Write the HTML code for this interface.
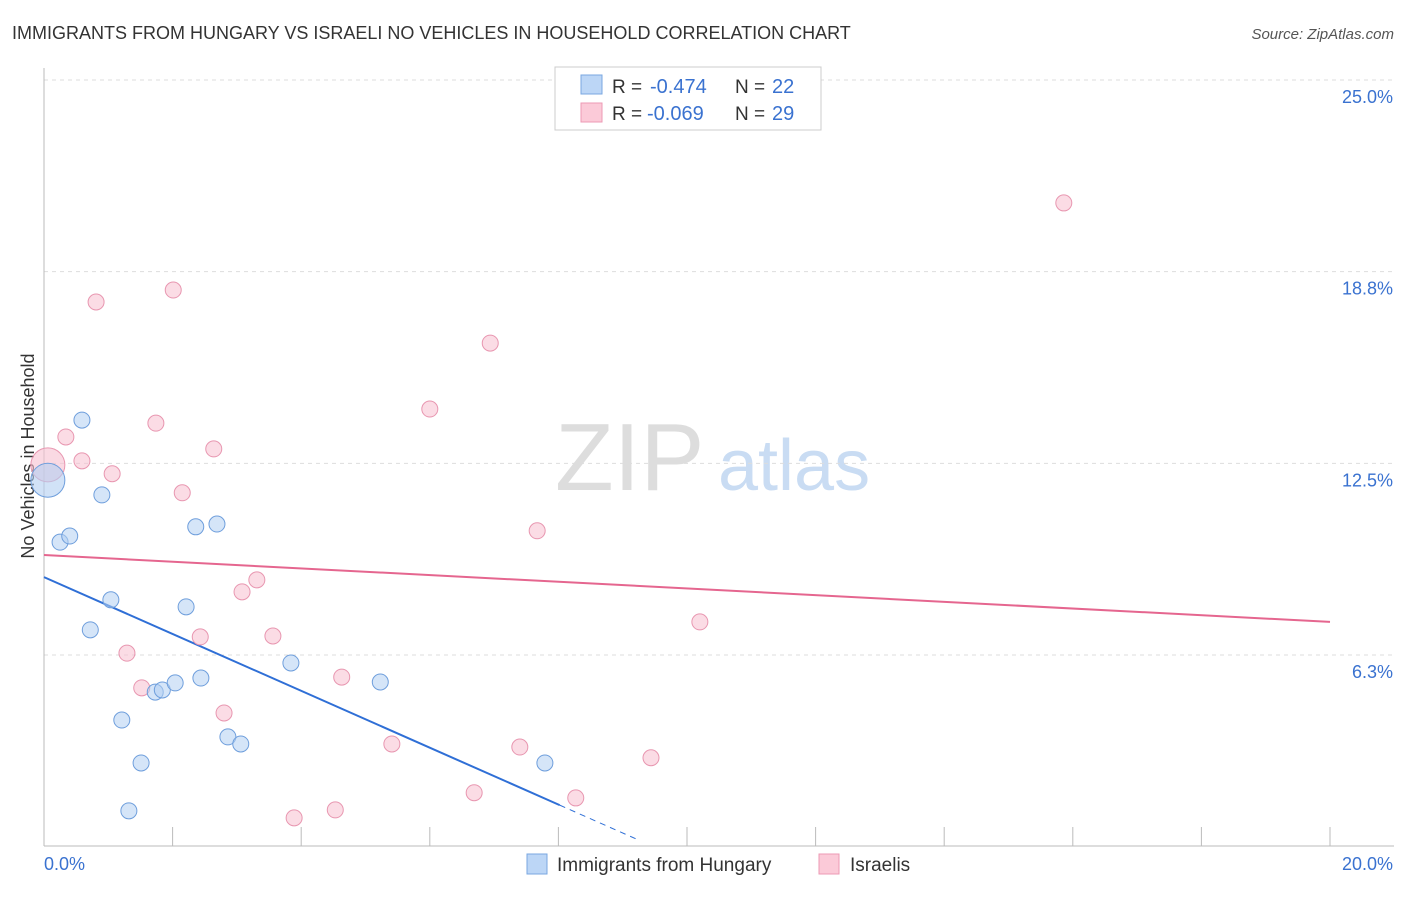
<!DOCTYPE html>
<html><head><meta charset="utf-8"><style>
body{margin:0;background:#fff;font-family:"Liberation Sans",sans-serif;}
svg text{font-family:"Liberation Sans",sans-serif;}
</style></head><body>
<svg id="chart" width="1406" height="892" xmlns="http://www.w3.org/2000/svg">
<text x="12" y="39" font-size="18" fill="#333">IMMIGRANTS FROM HUNGARY VS ISRAELI NO VEHICLES IN HOUSEHOLD CORRELATION CHART</text>
<text x="1394" y="39" font-size="15" fill="#555" text-anchor="end" font-style="italic">Source: ZipAtlas.com</text>
<text x="555" y="490" font-size="96" fill="#ddd" font-family="Liberation Serif">ZIP</text>
<text x="718" y="490" font-size="72" fill="#c9dcf3">atlas</text>
<text transform="translate(34,456) rotate(-90)" font-size="18" fill="#333" text-anchor="middle">No Vehicles in Household</text>
<g id="grid"></g><g id="axes"></g><g id="trends"></g><g id="points"></g>
<g>
<rect x="555" y="67" width="266" height="63" fill="#fff" stroke="#ccc"/>
<rect x="581" y="75" width="21" height="19" fill="#bcd6f6" stroke="#7aa7e0"/>
<rect x="581" y="103" width="21" height="19" fill="#fbcad8" stroke="#ec9ab4"/>
<text x="612" y="93" font-size="19" fill="#333">R =</text>
<text x="650" y="93" font-size="20" fill="#3a72d0">-0.474</text>
<text x="735" y="93" font-size="19" fill="#333">N =</text>
<text x="772" y="93" font-size="20" fill="#3a72d0">22</text>
<text x="612" y="120" font-size="19" fill="#333">R =</text>
<text x="647" y="120" font-size="20" fill="#3a72d0">-0.069</text>
<text x="735" y="120" font-size="19" fill="#333">N =</text>
<text x="772" y="120" font-size="20" fill="#3a72d0">29</text>
</g>
<g>
<rect x="527" y="854" width="20" height="20" fill="#bcd6f6" stroke="#7aa7e0"/>
<text x="557" y="871" font-size="19" fill="#333">Immigrants from Hungary</text>
<rect x="819" y="854" width="20" height="20" fill="#fbcad8" stroke="#ec9ab4"/>
<text x="850" y="871" font-size="19" fill="#333">Israelis</text>
</g>
</svg>
<script>
const yTicks=[25,18.75,12.5,6.25];
const yTickLabels=["25.0%","18.8%","12.5%","6.3%"];
const xTicks=[0,2,4,6,8,10,12,14,16,18,20];
const hungaryX=[0.06,0.25,0.40,0.59,0.90,1.04,0.72,1.21,1.51,1.32,1.73,1.84,2.04,2.21,2.36,2.44,2.69,2.86,3.06,3.84,5.23,7.79];
const hungaryY=[11.95,9.93,10.13,13.91,11.47,8.05,7.07,4.13,2.73,1.17,5.04,5.11,5.34,7.82,10.43,5.50,10.52,3.58,3.35,5.99,5.37,2.73];
const israelX=[0.06,0.34,0.59,0.81,1.06,1.29,1.52,1.74,2.01,2.15,2.43,2.64,2.80,3.08,3.31,3.56,3.89,4.53,4.63,5.41,6.00,6.69,6.94,7.40,7.67,8.27,9.44,10.20,15.86];
const israelY=[12.45,13.36,12.58,17.76,12.16,6.31,5.18,13.81,18.15,11.54,6.84,12.97,4.36,8.31,8.70,6.87,0.94,1.20,5.53,3.35,14.27,1.76,16.42,3.25,10.30,1.59,2.90,7.33,20.99];
const hungaryTrend=[8.79,-0.927];
const israelTrend=[9.51,-0.109];
const NS="http://www.w3.org/2000/svg";
const X=v=>44+v*64.3, Y=v=>846.7-v*30.67;
function mk(tag,attrs,parent){const e=document.createElementNS(NS,tag);for(const k in attrs)e.setAttribute(k,attrs[k]);document.getElementById(parent).appendChild(e);return e;}
yTicks.forEach((t,i)=>{
 const l=mk('line',{x1:44,x2:1394,y1:Y(t),y2:Y(t),stroke:'#ddd','stroke-dasharray':'4,4'},'grid');
 
 
 const tx=mk('text',{x:1393,y:Y(t)+23,'font-size':18,fill:'#3a72d0','text-anchor':'end'},'grid');
 tx.textContent=yTickLabels[i];
 
 
});
let a=mk('line',{x1:44,x2:44,y1:68,y2:846,stroke:'#bbb'},'axes');


a=mk('line',{x1:44,x2:1394,y1:846,y2:846,stroke:'#bbb'},'axes');


xTicks.forEach(t=>{
 const l=mk('line',{x1:X(t),x2:X(t),y1:827,y2:846,stroke:'#bbb'},'axes');
 
 
});
let t=mk('text',{x:44,y:870,'font-size':18,fill:'#3a72d0'},'axes');t.textContent='0.0%';


t=mk('text',{x:1393,y:870,'font-size':18,fill:'#3a72d0','text-anchor':'end'},'axes');t.textContent='20.0%';


function pts(xs,ys,fill,stroke,name){xs.forEach((x,i)=>{const big=i===0;
 const c=mk('circle',{cx:X(x),cy:Y(ys[i]),r:big?17:8,fill:fill,'fill-opacity':big?0.6:0.55,stroke:stroke,'stroke-width':1},'points');
 
 });}
pts(israelX,israelY,'#f7bfd0','#e896b0','israel-point');
pts(hungaryX,hungaryY,'#b3cff2','#6e9edc','hungary-point');
const hx1=Math.max(...hungaryX)+0.23,hx2=9.27;
let ln=mk('line',{x1:X(0),y1:Y(hungaryTrend[0]),x2:X(hx1),y2:Y(hungaryTrend[0]+hungaryTrend[1]*hx1),stroke:'#2f6fd6','stroke-width':2},'trends');


ln=mk('line',{x1:X(hx1),y1:Y(hungaryTrend[0]+hungaryTrend[1]*hx1),x2:X(hx2),y2:Y(hungaryTrend[0]+hungaryTrend[1]*hx2),stroke:'#2f6fd6','stroke-width':1,'stroke-dasharray':'6,5'},'trends');


ln=mk('line',{x1:X(0),y1:Y(israelTrend[0]),x2:X(20),y2:Y(israelTrend[0]+israelTrend[1]*20),stroke:'#e5668f','stroke-width':2},'trends');


</script>
</body></html>
